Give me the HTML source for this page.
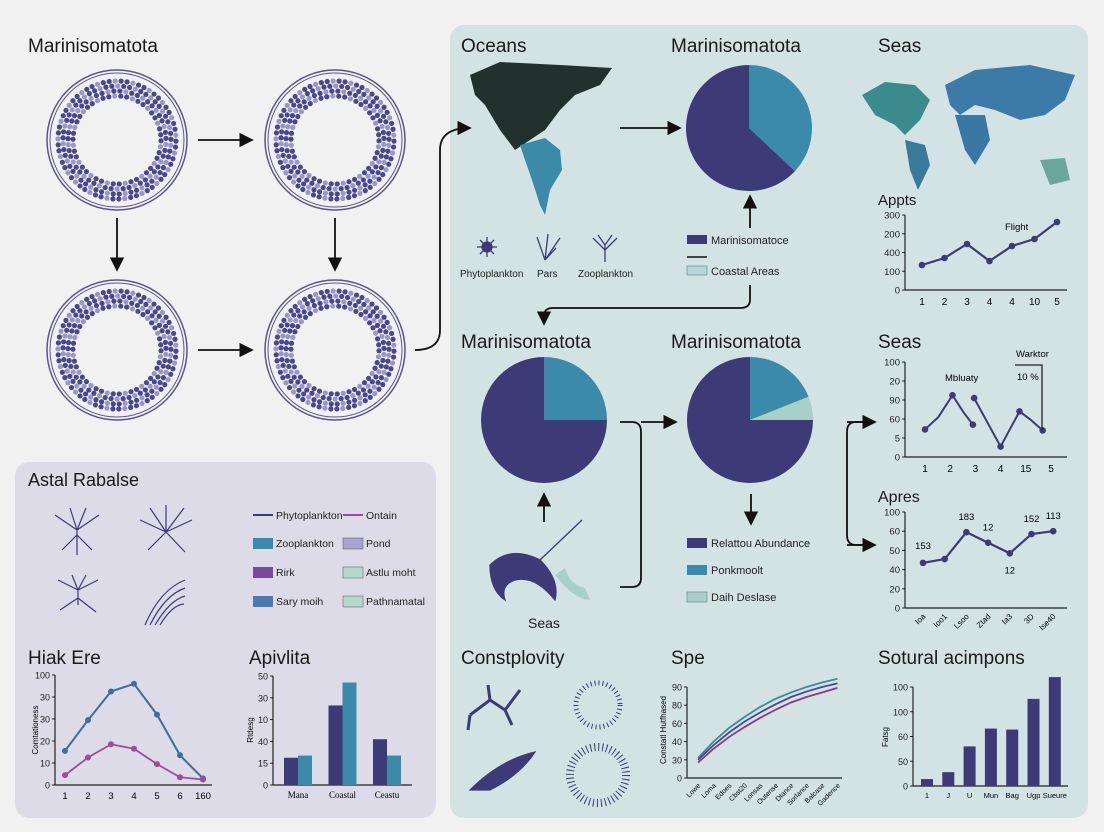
<!DOCTYPE html>
<html><head><meta charset="utf-8"><style>
html,body{margin:0;padding:0;background:#f1f1f1;}
svg{display:block;font-family:"Liberation Sans",sans-serif;}
</style></head><body>
<svg id="s" width="1104" height="832" viewBox="0 0 1104 832">
<defs><marker id="ah" markerWidth="8" markerHeight="8" refX="7" refY="4" orient="auto"><path d="M0,0 L8,4 L0,8 z" fill="#111"/></marker></defs>
<rect x="0" y="0" width="1104" height="832" fill="#f1f1f1"/>
<rect x="450" y="25" width="638" height="793" rx="14" fill="#d3e3e3"/>
<rect x="15" y="462" width="421" height="356" rx="14" fill="#dcdbe7"/>
<g fill="#1a1a1a">
<text x="28" y="52" font-size="19">Marinisomatota</text>
<text x="461" y="52" font-size="19">Oceans</text>
<text x="671" y="52" font-size="19">Marinisomatota</text>
<text x="878" y="52" font-size="19">Seas</text>
<text x="878" y="205" font-size="15">Appts</text>
<text x="461" y="348" font-size="19">Marinisomatota</text>
<text x="671" y="348" font-size="19">Marinisomatota</text>
<text x="878" y="348" font-size="19">Seas</text>
<text x="878" y="502" font-size="16">Apres</text>
<text x="28" y="486" font-size="18">Astal Rabalse</text>
<text x="28" y="664" font-size="19">Hiak Ere</text>
<text x="249" y="664" font-size="19">Apivlita</text>
<text x="461" y="664" font-size="19">Constplovity</text>
<text x="671" y="664" font-size="19">Spe</text>
<text x="878" y="664" font-size="19">Sotural acimpons</text>
<text x="528" y="628" font-size="14">Seas</text>
</g>
<g id="donuts"></g>
<g stroke="#111" stroke-width="1.8" fill="none">
<line x1="198" y1="140" x2="252" y2="140" marker-end="url(#ah)"/>
<line x1="198" y1="350" x2="252" y2="350" marker-end="url(#ah)"/>
<line x1="117" y1="218" x2="117" y2="270" marker-end="url(#ah)"/>
<line x1="335" y1="218" x2="335" y2="270" marker-end="url(#ah)"/>
<path d="M415,350 Q440,350 440,330 L440,150 Q440,128 470,128" marker-end="url(#ah)"/>
<line x1="620" y1="128" x2="680" y2="128" marker-end="url(#ah)"/>
<line x1="750" y1="228" x2="750" y2="196" marker-end="url(#ah)"/>
<path d="M750,285 L750,300 Q750,308 740,308 L553,308 Q544,308 544,316 L544,324" marker-end="url(#ah)"/>
<path d="M620,422 L632,422 Q641,422 641,432 L641,578 Q641,587 632,587 L620,587"/>
<line x1="641" y1="422" x2="676" y2="422" marker-end="url(#ah)"/>
<line x1="544" y1="522" x2="544" y2="494" marker-end="url(#ah)"/>
<line x1="751" y1="494" x2="751" y2="524" marker-end="url(#ah)"/>
<path d="M872,422 L856,422 Q847,422 847,432 L847,535 Q847,545 856,545 L872,545"/>
<line x1="847" y1="422" x2="875" y2="422" marker-end="url(#ah)"/>
<line x1="847" y1="545" x2="875" y2="545" marker-end="url(#ah)"/>
</g>
<g>
<path d="M470,75 L500,62 L560,65 L612,68 L600,85 L575,95 L560,110 L545,130 L530,140 L515,150 L500,130 L485,105 L475,95 Z" fill="#22302e"/>
<path d="M520,145 L545,138 L560,150 L562,170 L550,190 L545,215 L540,205 L532,180 L525,160 Z" fill="#3a8aa8"/>
</g>
<g>
<path d="M862,95 L885,82 L915,85 L930,100 L920,120 L905,135 L895,125 L875,115 Z" fill="#3a8b8c"/>
<path d="M905,140 L925,145 L930,165 L918,190 L910,170 Z" fill="#3a7a9a"/>
<path d="M945,85 L975,70 L1030,65 L1075,75 L1065,100 L1045,115 L1020,120 L995,110 L975,105 L960,115 L950,105 Z" fill="#3c7aa8"/>
<path d="M955,115 L985,115 L990,140 L975,165 L965,150 Z" fill="#3a78a4"/>
<path d="M1040,160 L1065,158 L1070,180 L1050,185 Z" fill="#6aa79a"/>
</g>
<g id="pies"></g>
<g font-size="11" fill="#222">
<rect x="687" y="235" width="20" height="9" fill="#3d3a78"/><text x="711" y="244">Marinisomatoce</text>
<line x1="687" y1="257" x2="707" y2="257" stroke="#111" stroke-width="1.5"/>
<rect x="687" y="266" width="20" height="9" fill="#b6d6d8" stroke="#6a8a90" stroke-width="0.7"/><text x="711" y="275">Coastal Areas</text>
<rect x="687" y="538" width="20" height="10" fill="#3d3a78"/><text x="711" y="547">Relattou Abundance</text>
<rect x="687" y="565" width="20" height="10" fill="#3c8aaa"/><text x="711" y="574">Ponkmoolt</text>
<rect x="687" y="592" width="20" height="10" fill="#a8cfc8" stroke="#6a8a90" stroke-width="0.7"/><text x="711" y="601">Daih Deslase</text>
<text x="460" y="277" font-size="10">Phytoplankton</text><text x="537" y="277" font-size="10">Pars</text><text x="578" y="277" font-size="10">Zooplankton</text>
</g>
<g stroke="#3d3a78" stroke-width="1.3" fill="none">
<circle cx="487" cy="247" r="5" fill="#3d3a78"/>
<path d="M477,247h20M487,237v20M480,240l14,14M494,240l-14,14"/>
<path d="M545,260 L537,237 M545,260 L548,234 M545,260 L560,238 M545,260 L556,248"/>
<path d="M605,262 V245 M605,250 L593,238 M605,250 L617,238 M605,245 L598,235 M605,245 L612,235"/>
<path d="M490,565 Q510,545 540,560 Q560,580 555,600 Q535,575 515,580 Q500,585 505,600 Q490,590 490,565 Z" fill="#3d3a78"/>
<path d="M540,560 L582,520" />
<path d="M555,575 Q575,600 590,600 L585,588 Q570,585 565,568 Z" fill="#a8cfc8" stroke="none"/>
</g>
<g stroke="#3d3a78" stroke-width="1.2" fill="none">
<path d="M77,530 V555 M77,530 L55,515 M77,530 L99,515 M77,535 L62,550 M77,535 L92,550 M77,530 L70,508 M77,530 L86,508"/>
<path d="M166,532 L140,520 M166,532 L192,520 M166,532 L148,550 M166,532 L185,552 M166,532 L166,505 M166,532 L150,508 M166,532 L184,508"/>
<path d="M78,605 V590 L58,580 M78,590 L98,580 M78,598 L60,610 M78,598 L96,612 M78,590 L72,575 M78,590 L86,575"/>
<path d="M145,625 Q160,590 185,580 M150,625 Q165,595 185,588 M155,625 Q170,600 185,596 M160,625 Q172,605 184,604"/>
<path d="M470,715 L490,700 L505,710 L520,690 M490,700 L488,685 M505,710 L512,725 M470,715 L468,730" stroke-width="3"/>
<circle cx="598" cy="705" r="22" stroke-dasharray="1 3" stroke-width="5"/>
<path d="M470,790 Q500,760 535,752 Q520,775 490,790 Z" fill="#3d3a78"/>
<circle cx="598" cy="775" r="28" stroke-dasharray="1 3" stroke-width="8"/>
</g>
<g font-size="10.5" fill="#222">
<line x1="253" y1="515" x2="273" y2="515" stroke="#3d3a78" stroke-width="2"/><text x="276" y="519">Phytoplankton</text>
<line x1="343" y1="515" x2="363" y2="515" stroke="#a04a9a" stroke-width="2"/><text x="366" y="519">Ontain</text>
<rect x="253" y="538" width="20" height="11" fill="#3c8aaa"/><text x="276" y="547">Zooplankton</text>
<rect x="343" y="538" width="20" height="11" fill="#a8a4d0" stroke="#555" stroke-width="0.5"/><text x="366" y="547">Pond</text>
<rect x="253" y="567" width="20" height="11" fill="#7a4a9a"/><text x="276" y="576">Rirk</text>
<rect x="343" y="567" width="20" height="11" fill="#b4d8ce" stroke="#555" stroke-width="0.5"/><text x="366" y="576">Astlu moht</text>
<rect x="253" y="596" width="20" height="11" fill="#4a7ab0"/><text x="276" y="605">Sary moih</text>
<rect x="343" y="596" width="20" height="11" fill="#b4d8ce" stroke="#555" stroke-width="0.5"/><text x="366" y="605">Pathnamatal</text>
</g>
<g id="charts"></g>
</svg>
<script>
// ---- chart data ----
const apptsLabels=["1","2","3","4","4","10","5"];
const apptsValues=[100,128,184,116,176,204,272];
const apptsTicks=["300","200","400","100","0"];
const seasX=[1,1.53,2.09,2.53,2.9,2.95,4,4.75,5.2,5.67];
const seasY=[29,42,65,47,34,62,11,48,39,28];
const seasLabels=["1","2","3","4","15","5"];
const seasTicks=["100","20","90","60","5","0"];
const apresValues=[47,51,79,68,57,77,80];
const apresLabels=["Ioa","Ioo1","Lsoo","Ztad","Ia3","3D","Ise40"];
const apresNotes=["153","","183","12","12","152","113"];
const apresTicks=["100","60","50","40","20","0"];
const hiakLabels=["1","2","3","4","5","6","160"];
const hiakBlue=[31,59,85,92,64,27,6];
const hiakPink=[9,25,37,33,19,7,5];
const hiakTicks=["100","30","30","20","10","0"];
const apivCats=["Mana","Coastal","Ceastu"];
const apivNavy=[25,73,42];
const apivTeal=[27,94,27];
const apivTicks=["50","30","10","40","15","0"];
const speLabels=["Lowe","Loma","Edoes","Cbst20","Lonsas","Outense","Dtance","Sorlance","Balcase","Gadence"];
const speTeal=[22,40,55,67,78,87,94,100,105,109];
const speNavy=[20,36,50,62,72,81,89,95,100,104];
const spePink=[17,32,45,56,66,75,83,89,94,99];
const speTicks=["90","80","60","40","30","0"];
const sotCats=["1","J","U","Mun","Bag","Ugp","Sueure"];
const sotValues=[7,14,40,58,57,88,110];
const sotTicks=["100","100","60","50","0"];
const pieTop=[37,63];
const pieLeft=[25,75];
const pieRight=[19,6,75];

const NS="http://www.w3.org/2000/svg";
const charts=document.getElementById('charts');
function mk(tag,attrs,parent,text){const e=document.createElementNS(NS,tag);for(const k in attrs)e.setAttribute(k,attrs[k]);if(text!==undefined)e.textContent=text;(parent||charts).appendChild(e);return e;}
const NAVY="#3d3a78",TEAL="#3c8aaa",PALE="#a8cfc8";

// donuts
const dn=document.getElementById('donuts');
[[117,140],[335,140],[117,350],[335,350]].forEach(([cx,cy],i)=>{
  const g=mk('g',{},dn);
  
  
  mk('circle',{cx,cy,r:70,fill:'none',stroke:'#5a5490','stroke-width':1.5},g);
  mk('circle',{cx,cy,r:67,fill:'none',stroke:'#5a5490','stroke-width':1},g);
  for(let r=44;r<=60;r+=5){const n=Math.round(2*Math.PI*r/6);for(let k=0;k<n;k++){const a=k/n*2*Math.PI+r;mk('circle',{cx:cx+r*Math.cos(a),cy:cy+r*Math.sin(a),r:2.6,fill:(k+r)%3?'#4a4690':'#9a96c8'},g);}}
});

// pies
const pg=document.getElementById('pies');
function pie(cx,cy,r,vals,cols,name){
  const g=mk('g',{},pg);
  const tot=vals.reduce((a,b)=>a+b,0);let a0=-Math.PI/2;
  vals.forEach((v,i)=>{const a1=a0+v/tot*2*Math.PI;const large=(a1-a0)>Math.PI?1:0;
    const p=mk('path',{d:`M${cx},${cy} L${cx+r*Math.cos(a0)},${cy+r*Math.sin(a0)} A${r},${r} 0 ${large} 1 ${cx+r*Math.cos(a1)},${cy+r*Math.sin(a1)} Z`,fill:cols[i]},g);
    a0=a1;});
}
pie(749,128,63,pieTop,[TEAL,NAVY],'pie-top');
pie(544,420,63,pieLeft,[TEAL,NAVY],'pie-left');
pie(750,420,63,pieRight,[TEAL,PALE,NAVY],'pie-right');

function axes(x0,x1,y0,yTop,ticks,fs){
  mk('line',{x1:x0,y1:y0,x2:x1,y2:y0,stroke:'#222','stroke-width':1.2});
  mk('line',{x1:x0,y1:y0,x2:x0,y2:yTop,stroke:'#222','stroke-width':1.2});
  ticks.forEach((t,i)=>{const y=yTop+(y0-yTop)*i/(ticks.length-1);
    mk('text',{x:x0-5,y:y+3.5,'font-size':fs||9.5,'text-anchor':'end',fill:'#222'},undefined,t);
    mk('line',{x1:x0-3,y1:y,x2:x0,y2:y,stroke:'#222'});});
}
function line(pts,col,w,name){const p=mk('polyline',{points:pts.map(q=>q.join(',')).join(' '),fill:'none',stroke:col,'stroke-width':w});return p;}
function dots(pts,col,r,name){pts.forEach((q,i)=>{const c=mk('circle',{cx:q[0],cy:q[1],r,fill:col});});}

// Appts
{const X=i=>922+i*22.5,Y=v=>290-v*0.25;axes(905,1067,290,215,apptsTicks);
 apptsLabels.forEach((l,i)=>mk('text',{x:X(i),y:305,'font-size':10,'text-anchor':'middle'},undefined,l));
 const pts=apptsValues.map((v,i)=>[X(i),Y(v)]);line(pts,NAVY,2.2,'appts-line');dots(pts,NAVY,3.3,'appts');
 mk('text',{x:1005,y:230,'font-size':9.5},undefined,'Flight');}
// Seas
{const X=v=>925+(v-1)*25.2,Y=v=>457-v*0.95;axes(905,1067,457,362,seasTicks);
 seasLabels.forEach((l,i)=>mk('text',{x:X(i+1),y:472,'font-size':10,'text-anchor':'middle'},undefined,l));
 const pts=seasX.map((x,i)=>[X(x),Y(seasY[i])]);
 line(pts.slice(0,5),NAVY,2,'seas-line-a');line(pts.slice(5),NAVY,2,'seas-line-b');
 dots([pts[0],pts[2],pts[4],pts[5],pts[6],pts[7],pts[9]],NAVY,3.3,'seas');
 mk('text',{x:945,y:381,'font-size':9.5},undefined,'Mbluaty');
 mk('text',{x:1016,y:357,'font-size':9.5},undefined,'Warktor');
 mk('text',{x:1017,y:380,'font-size':9.5},undefined,'10 %');
 mk('path',{d:'M1015,365 L1042,365 L1042,430',fill:'none',stroke:'#222','stroke-width':1.3});}
// Apres
{const X=i=>923+i*21.7,Y=v=>608-v*0.96;axes(905,1067,608,512,apresTicks);
 apresLabels.forEach((l,i)=>mk('text',{x:X(i)+3,y:617,'font-size':8,'text-anchor':'end',transform:`rotate(-45 ${X(i)+3} 617)`},undefined,l));
 const pts=apresValues.map((v,i)=>[X(i),Y(v)]);line(pts,NAVY,2.2,'apres-line');dots(pts,NAVY,3.3,'apres');
 apresNotes.forEach((n,i)=>{if(n)mk('text',{x:X(i),y:Y(apresValues[i])-(i==4?-20:12)+(i==0?-2:0),'font-size':9.5,'text-anchor':'middle'},undefined,n);});}
// Hiak Ere
{const X=i=>65+i*23,Y=v=>785-v*1.1;axes(55,212,785,675,hiakTicks,9);
 hiakLabels.forEach((l,i)=>mk('text',{x:X(i),y:799,'font-size':9.5,'text-anchor':'middle'},undefined,l));
 const b=hiakBlue.map((v,i)=>[X(i),Y(v)]),p=hiakPink.map((v,i)=>[X(i),Y(v)]);
 line(b,'#3c6ea0',2,'hiak-blue-line');dots(b,'#3c6ea0',3,'hiak-blue');
 line(p,'#a04a9a',1.8,'hiak-pink-line');dots(p,'#a04a9a',3,'hiak-pink');
 mk('text',{x:38,y:730,'font-size':8,'text-anchor':'middle',transform:'rotate(-90 38 730)'},undefined,'Comtationess');}
// Apivlita
{const Y=v=>785-v*1.09;axes(273,412,785,676,apivTicks,9);
 apivCats.forEach((c,i)=>{const cx=298+i*44.5;
  const r1=mk('rect',{x:cx-14,y:Y(apivNavy[i]),width:14,height:apivNavy[i]*1.09,fill:NAVY});
  const r2=mk('rect',{x:cx,y:Y(apivTeal[i]),width:14,height:apivTeal[i]*1.09,fill:TEAL});
  mk('text',{x:cx,y:798,'font-size':9,'text-anchor':'middle','font-family':'Liberation Serif'},undefined,c);});
 mk('text',{x:253,y:730,'font-size':8,'text-anchor':'middle',transform:'rotate(-90 253 730)'},undefined,'Rtdesg');}
// Spe
{const X=i=>698+i*15.5,Y=v=>778-v*0.91;axes(687,842,778,687,speTicks,9);
 speLabels.forEach((l,i)=>mk('text',{x:X(i)+3,y:786,'font-size':7,'text-anchor':'end',transform:`rotate(-45 ${X(i)+3} 786)`},undefined,l));
 line(speTeal.map((v,i)=>[X(i),Y(v)]),'#3c8a9a',1.8,'spe-teal-line');
 line(speNavy.map((v,i)=>[X(i),Y(v)]),'#4a4a90',1.8,'spe-navy-line');
 line(spePink.map((v,i)=>[X(i),Y(v)]),'#8a3a80',1.8,'spe-pink-line');
 mk('text',{x:666,y:730,'font-size':8,'text-anchor':'middle',transform:'rotate(-90 666 730)'},undefined,'Constatl Hutfhased');}
// Sotural
{const X=i=>927+i*21.3,Y=v=>786-v*0.99;axes(913,1068,786,687,sotTicks,9);
 sotCats.forEach((c,i)=>{const r=mk('rect',{x:X(i)-6,y:Y(sotValues[i]),width:12,height:sotValues[i]*0.99,fill:NAVY});
  mk('text',{x:X(i),y:798,'font-size':7.5,'text-anchor':'middle'},undefined,c);});
 mk('text',{x:888,y:737,'font-size':8,'text-anchor':'middle',transform:'rotate(-90 888 737)'},undefined,'Fatsg');}
</script>
</body></html>
